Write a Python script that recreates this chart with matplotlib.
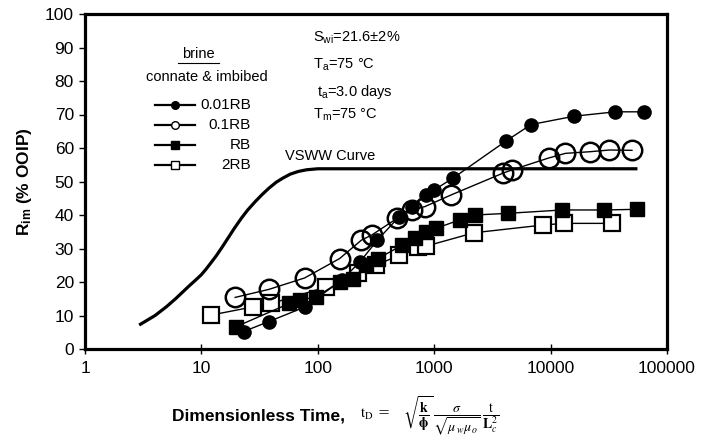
import numpy as np
import matplotlib
matplotlib.use("Agg")
import matplotlib.pyplot as plt
from matplotlib.lines import Line2D
from matplotlib.ticker import FixedLocator, FixedFormatter, NullLocator

plt.rcParams['font.family'] = ['Liberation Sans', 'DejaVu Sans']
plt.rcParams['mathtext.fontset'] = 'custom'
plt.rcParams['mathtext.rm'] = 'Liberation Sans'
plt.rcParams['mathtext.it'] = 'Liberation Sans:italic'
plt.rcParams['mathtext.bf'] = 'Liberation Sans:bold'

# VSWW curve
vsww_t = [3, 4, 5, 6, 7, 8, 9, 10, 11, 12, 13.4, 15, 17, 19, 22, 25, 29, 33, 38, 44, 50, 58, 68, 80, 100, 54000]
vsww_r = [7.4, 10, 12.6, 15.0, 17.2, 19.1, 20.7, 22.2, 23.9, 25.6, 27.8, 30.3, 33.2, 35.8, 39, 41.5, 44, 46, 48, 49.8, 51, 52.2, 53, 53.5, 53.8, 53.8]

# 0.01RB (filled circles)
rb001_t = [23, 38, 77, 160, 230, 325, 500, 650, 850, 1000, 1450, 4100, 6800, 16000, 36000, 63000]
rb001_r = [5.2, 8.2, 12.5, 20.5, 26, 32.5, 39.5, 42.5, 46, 47.5, 51, 62, 67, 69.5, 70.8, 70.8]

# 0.1RB (open circles)
rb01_t = [19.5, 38, 77, 154, 237, 290, 480, 650, 830, 1400, 3900, 4700, 9600, 13400, 22000, 32000, 50000]
rb01_r = [15.4, 17.8, 21.2, 27, 32.5, 34, 39, 41.5, 42.5, 46, 52.5, 53.5, 57, 58.4, 58.9, 59.4, 59.3]

# RB (filled squares)
rb_t = [20, 57, 70, 97, 154, 200, 260, 330, 530, 680, 850, 1030, 1650, 2250, 4300, 12600, 28700, 55700]
rb_r = [6.7, 13.6, 14.5, 15.6, 20, 21, 25, 27, 31, 33, 35, 36, 38.5, 40, 40.5, 41.5, 41.5, 41.7]

# 2RB (open squares)
rb2_t = [12, 28, 40, 118, 220, 318, 500, 720, 850, 2200, 8600, 13000, 33500]
rb2_r = [10.1, 12.6, 13.6, 18.5, 22.6, 25, 28, 30.5, 30.7, 34.7, 37, 37.5, 37.5]

xticks = [1, 10, 100, 1000, 10000, 100000]
xtick_labels = ['1', '10', '100', '1000', '10000', '100000']
yticks = list(range(0, 101, 10))

fig = plt.figure(figsize=(7.01, 4.43), dpi=100)
ax = fig.add_axes([85 / 701, 1 - 349 / 443, (667 - 85) / 701, (349 - 14) / 443])

ax.plot(vsww_t, vsww_r, color='black', lw=2.3, zorder=2, solid_joinstyle='round')
ax.plot(rb2_t, rb2_r, color='black', lw=1, marker='s', ms=11, mfc='white', mec='black', mew=1.6, zorder=3)
ax.plot(rb_t, rb_r, color='black', lw=1, marker='s', ms=9.5, mfc='black', mec='black', zorder=4)
ax.plot(rb01_t, rb01_r, color='black', lw=1, marker='o', ms=14, mfc='none', mec='black', mew=1.8, zorder=5)
ax.plot(rb001_t, rb001_r, color='black', lw=1, marker='o', ms=9.5, mfc='black', mec='black', zorder=6)

ax.set_xscale('log')
ax.set_xlim(1, 100000)
ax.set_ylim(0, 100)
ax.xaxis.set_major_locator(FixedLocator(xticks))
ax.xaxis.set_major_formatter(FixedFormatter(xtick_labels))
ax.xaxis.set_minor_locator(NullLocator())
ax.set_yticks(yticks)
ax.tick_params(axis='x', direction='inout', length=7, width=1, labelsize=12.5, pad=5)
ax.tick_params(axis='y', direction='out', length=4, width=1, labelsize=12.5, pad=4)
for s in ax.spines.values():
    s.set_linewidth(2.3)

ax.set_ylabel(r'$\mathbf{R}_{\mathbf{im}}$ (% OOIP)', fontsize=12.5, fontweight='bold', labelpad=8)

ax.text(52, 55.5, 'VSWW Curve', fontsize=10.5, ha='left', va='bottom')

# conditions
fig.text(313 / 701, 1 - 38 / 443, r'S$_{\mathrm{wi}}$=21.6±2%', fontsize=10.5, va='center')
fig.text(313 / 701, 1 - 65 / 443, r'T$_{\mathrm{a}}$=75 °C', fontsize=10.5, va='center')
fig.text(317 / 701, 1 - 92 / 443, r't$_{\mathrm{a}}$=3.0 days', fontsize=10.5, va='center')
fig.text(313 / 701, 1 - 115 / 443, r'T$_{\mathrm{m}}$=75 °C', fontsize=10.5, va='center')

# legend
fig.text(198 / 701, 1 - 54 / 443, 'brine', fontsize=10.5, ha='center', va='center')
fig.add_artist(Line2D([178 / 701, 219 / 701], [1 - 63 / 443, 1 - 63 / 443], color='black', lw=0.8))
fig.text(207 / 701, 1 - 77 / 443, 'connate & imbibed', fontsize=10.5, ha='center', va='center')
leg_rows = [('0.01RB', 'o', 'black', 105), ('0.1RB', 'o', 'white', 125),
            ('RB', 's', 'black', 145), ('2RB', 's', 'white', 165)]
for lab, mk, fc, yy in leg_rows:
    yf = 1 - yy / 443
    fig.add_artist(Line2D([155 / 701, 195 / 701], [yf, yf], color='black', lw=1.6))
    fig.add_artist(Line2D([175 / 701], [yf], marker=mk, ms=5.5, mfc=fc, mec='black', mew=1, ls='none'))
    fig.text(251 / 701, yf, lab, fontsize=11, ha='right', va='center')

# x label
fig.text(172 / 701, 1 - 416 / 443, 'Dimensionless Time,', fontsize=12.5, fontweight='bold', va='center')
fig.text(360 / 701, 1 - 414 / 443, r'$\mathrm{t}_{\mathrm{D}}$ =', fontsize=10.5, va='center',
         math_fontfamily='stix', family='DejaVu Serif')
fig.text(403 / 701, 1 - 416 / 443,
         r'$\sqrt{\dfrac{\mathbf{k}}{\mathbf{\phi}}}\,\dfrac{\sigma}{\sqrt{\mu_{\,w}\mu_{\,o}}}\,\dfrac{\mathrm{t}}{\mathbf{L}_{c}^{2}}$',
         fontsize=10, va='center', math_fontfamily='stix')

fig.savefig('out.png', dpi=100)
